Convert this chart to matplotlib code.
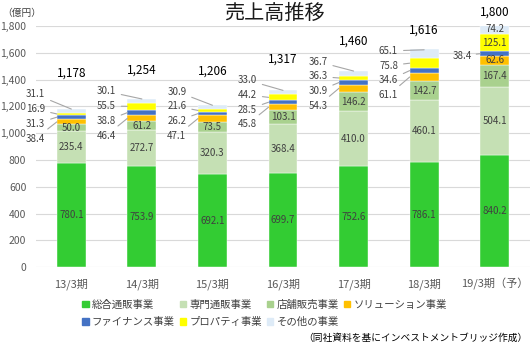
import matplotlib
matplotlib.use('Agg')
import matplotlib.pyplot as plt
from matplotlib.patches import Rectangle

plt.rcParams['font.family'] = ['Noto Sans CJK JP', 'DejaVu Sans']

periods = ['13/3期', '14/3期', '15/3期', '16/3期', '17/3期', '18/3期', '19/3期（予）']
series_names = ['総合通販事業', '専門通販事業', '店舗販売事業', 'ソリューション事業',
                'ファイナンス事業', 'プロパティ事業', 'その他の事業']
general = [780.1, 753.9, 692.1, 699.7, 752.6, 786.1, 840.2]
specialty = [235.4, 272.7, 320.3, 368.4, 410.0, 460.1, 504.1]
retail = [50.0, 61.2, 73.5, 103.1, 146.2, 142.7, 167.4]
solution = [38.4, 46.4, 47.1, 45.8, 54.3, 61.1, 62.6]
finance = [31.3, 38.8, 26.2, 28.5, 30.9, 34.6, 38.4]
prop = [16.9, 55.5, 21.6, 44.2, 36.3, 75.8, 125.1]
other = [31.1, 30.1, 30.9, 33.0, 36.7, 65.1, 74.2]
totals = ['1,178', '1,254', '1,206', '1,317', '1,460', '1,616', '1,800']

colors = ['#33CC33', '#C5E0B4', '#A9D18E', '#FFC000', '#4472C4', '#FFFF00', '#DEEBF7']

data = [general, specialty, retail, solution, finance, prop, other]

fig = plt.figure(figsize=(5.30, 3.47), dpi=100)
ax = fig.add_axes([0.068, 0.230, 0.932, 0.695])

x = list(range(len(periods)))
w = 0.41
bottoms = [0.0] * len(periods)
seg_bottoms = []
for vals, c in zip(data, colors):
    ax.bar(x, vals, w, bottom=bottoms, color=c, edgecolor='white', linewidth=0.3, zorder=3)
    seg_bottoms.append(list(bottoms))
    bottoms = [b + v for b, v in zip(bottoms, vals)]

ax.set_xlim(-0.5, len(periods) - 0.5)
ax.set_ylim(0, 1800)
ax.set_yticks(range(0, 1801, 200))
ax.set_yticklabels(['{:,}'.format(v) for v in range(0, 1801, 200)])
ax.set_xticks(x)
ax.set_xticklabels(periods)
ax.tick_params(length=0, labelsize=8, colors='#595959')
ax.tick_params(axis='y', pad=7, labelsize=7.5)
ax.tick_params(axis='x', pad=8)
ax.grid(axis='y', color='#D9D9D9', lw=0.8, zorder=0)
for s in ax.spines.values():
    s.set_visible(False)

label_col = '#404040'
lead_col = '#A6A6A6'
fs = 7
step = 110
last = len(periods) - 1
for i in x:
    # labels inside the big segments
    n_inside = 7 if i == last else 3
    for k in range(n_inside):
        if i == last and k == 4:
            continue
        v = data[k][i]
        ax.text(i, seg_bottoms[k][i] + v / 2, '{:.1f}'.format(v), ha='center', va='center',
                fontsize=fs, color=label_col, zorder=4)
    if i == last:
        v = finance[i]
        yc = seg_bottoms[4][i] + v / 2
        ax.annotate('{:.1f}'.format(v), xy=(i - w / 2, yc), xytext=(i - 0.32, yc - 15),
                    ha='right', va='center', fontsize=fs, color=label_col,
                    arrowprops=dict(arrowstyle='-', color=lead_col, lw=0.8, shrinkA=1, shrinkB=0))
        ax.text(i, bottoms[i] + 90, totals[i], ha='center', va='center', fontsize=8.5, color='black')
        continue
    # callouts for the small segments, stacked to the left
    base = seg_bottoms[3][i] - 105
    for j, k in enumerate(range(3, 7)):
        v = data[k][i]
        ly = base + j * step
        if k == 6:
            target = (i, bottoms[i] - 3)
        else:
            target = (i - w / 2, seg_bottoms[k][i] + v / 2)
        ax.annotate('{:.1f}'.format(v), xy=target, xytext=(i - 0.37, ly),
                    ha='right', va='center', fontsize=fs, color=label_col,
                    arrowprops=dict(arrowstyle='-', color=lead_col, lw=0.8, shrinkA=2, shrinkB=0))
    ax.text(i, base + 3 * step + 155, totals[i], ha='center', va='center', fontsize=8.5, color='black')

fig.text(0.518, 0.962, '売上高推移', ha='center', va='center', fontsize=14.5, color='#1a1a1a')
fig.text(0.005, 0.962, '（億円）', ha='left', va='center', fontsize=7, color='#404040')

handles = [Rectangle((0, 0), 1, 1, color=c) for c in colors]
order = [0, 4, 1, 5, 2, 6, 3]
fig.legend([handles[k] for k in order], [series_names[k] for k in order],
           loc='center', bbox_to_anchor=(0.499, 0.097), ncol=4, frameon=False,
           fontsize=7.5, handlelength=0.6, handleheight=0.6, handletextpad=0.3,
           columnspacing=0.5, labelspacing=0.7, labelcolor='#404040')

fig.text(0.995, 0.026, '（同社資料を基にインベストメントブリッジ作成）', ha='right', va='center',
         fontsize=7, color='black')

fig.savefig('out.png', dpi=100)
